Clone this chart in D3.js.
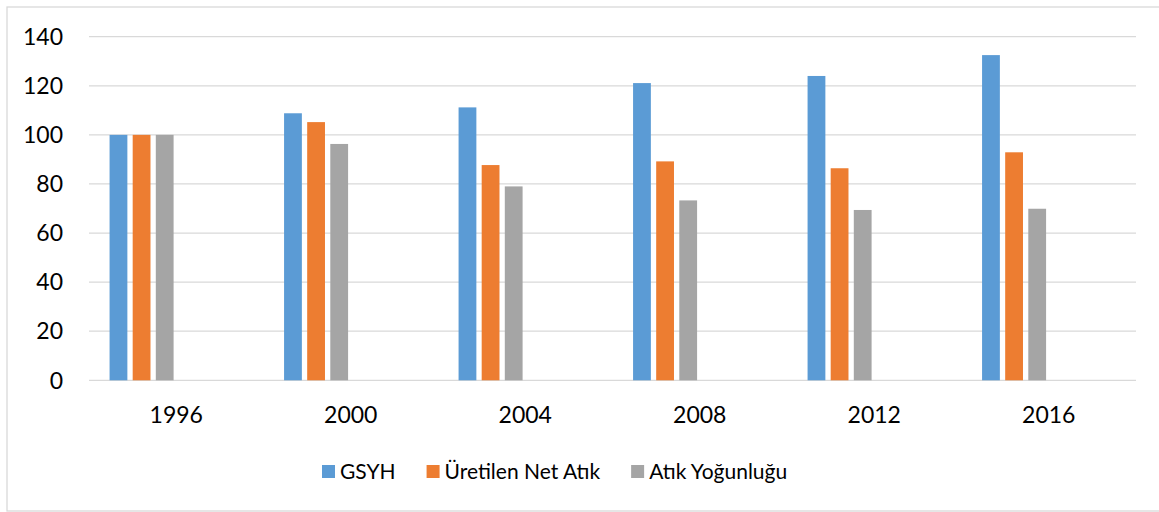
<!DOCTYPE html>
<html>
<head>
<meta charset="utf-8">
<script src="https://cdn.jsdelivr.net/npm/d3@7"></script>
<style>
  body { margin: 0; background: #fff; }
  text { font-family: Lato, 'Open Sans', sans-serif; fill: #000; }
</style>
</head>
<body>
<div id="chart"></div>
<script>
const years = ['1996', '2000', '2004', '2008', '2012', '2016']
const seriesNames = ['GSYH', 'Üretilen Net Atık', 'Atık Yoğunluğu']
const gsyh = [100, 108.8, 111.2, 121.1, 124.0, 132.5]
const netAtik = [100, 105.2, 87.7, 89.2, 86.4, 92.9]
const atikYogunlugu = [100, 96.3, 79.0, 73.3, 69.4, 69.9]
const yTicks = [0, 20, 40, 60, 80, 100, 120, 140]
const colors = ['#5B9BD5', '#ED7D31', '#A5A5A5']

const width = 1159
const height = 512
const margin = {top: 36.7, right: 23, bottom: 131.7, left: 89}

const values = [gsyh, netAtik, atikYogunlugu]
const data = years.map(function (yr, i) {
  return {year: yr, vals: values.map(function (s) { return s[i] })}
})

const svg = d3.select('#chart').append('svg')
    .attr('width', width)
    .attr('height', height)

// outer frame
svg.append('rect')
    .attr('x', 7).attr('y', 7)
    .attr('width', width).attr('height', 504)
    .attr('fill', 'none')
    .attr('stroke', '#D9D9D9')
    .attr('stroke-width', 1.3)

const x0 = d3.scaleBand()
    .domain(years)
    .range([margin.left, width - margin.right])

// the sheet keeps room for 6 series slots, only 3 are filled
const x1 = d3.scaleBand()
    .domain(d3.range(6))
    .range([0, x0.bandwidth()])
    .paddingInner(0.23)
    .paddingOuter(0.89)

const y = d3.scaleLinear()
    .domain([0, 140])
    .range([height - margin.bottom, margin.top])

// gridlines
svg.append('g').selectAll('line')
    .data(yTicks)
  .join('line')
    .attr('x1', margin.left)
    .attr('x2', width - margin.right)
    .attr('y1', function (d) { return y(d) })
    .attr('y2', function (d) { return y(d) })
    .attr('stroke', '#D9D9D9')
    .attr('stroke-width', 1.3)

// y labels
svg.append('g').selectAll('text')
    .data(yTicks)
  .join('text')
    .attr('x', 63)
    .attr('y', function (d) { return y(d) })
    .attr('dy', '0.36em')
    .attr('text-anchor', 'end')
    .style('font-size', '23px')
    .text(function (d) { return d })

// bars
const groups = svg.append('g').selectAll('g')
    .data(data)
  .join('g')
    .attr('transform', function (d) { return 'translate(' + x0(d.year) + ',0)' })

groups.selectAll('rect')
    .data(function (d) { return d.vals })
  .join('rect')
    .attr('x', function (d, i) { return x1(i) })
    .attr('width', x1.bandwidth())
    .attr('y', function (d) { return y(d) })
    .attr('height', function (d) { return y(0) - y(d) })
    .attr('fill', function (d, i) { return colors[i] })

// x labels
svg.append('g').selectAll('text')
    .data(years)
  .join('text')
    .attr('x', function (d) { return x0(d) + x0.bandwidth() / 2 })
    .attr('y', 423)
    .attr('text-anchor', 'middle')
    .style('font-size', '23px')
    .text(function (d) { return d })

// legend
const legend = svg.append('g')
let lx = 322
seriesNames.forEach(function (name, i) {
  legend.append('rect')
      .attr('x', lx).attr('y', 465)
      .attr('width', 13).attr('height', 13)
      .attr('fill', colors[i])
  const t = legend.append('text')
      .attr('x', lx + 18)
      .attr('y', 479)
      .style('font-size', '21px')
      .text(name)
  lx += 18 + t.node().getComputedTextLength() + 31
})
</script>
</body>
</html>
